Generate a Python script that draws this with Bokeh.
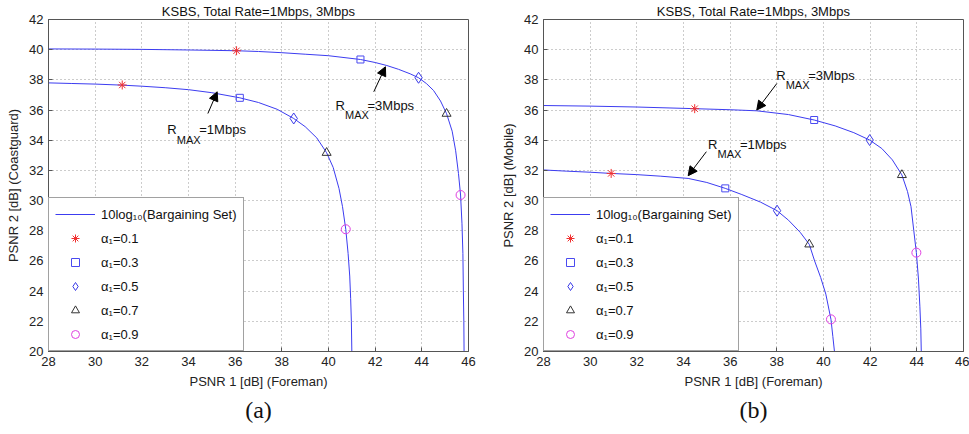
from bokeh.plotting import figure
from bokeh.models import (Range1d, FixedTicker, Legend, LegendItem, Arrow,
                          NormalHead, Label, Title)
from bokeh.layouts import row
from bokeh.embed import file_html
from bokeh.resources import INLINE

# ---------------- text ----------------
TITLE = "KSBS, Total Rate=1Mbps, 3Mbps"
X_LABEL = "PSNR 1 [dB] (Foreman)"
Y_LABEL_A = "PSNR 2 [dB] (Coastguard)"
Y_LABEL_B = "PSNR 2 [dB] (Mobile)"
CAPTION_A = "(a)"
CAPTION_B = "(b)"
X_TICKS = [28, 30, 32, 34, 36, 38, 40, 42, 44, 46]
Y_TICKS = [20, 22, 24, 26, 28, 30, 32, 34, 36, 38, 40, 42]
LEGEND_LABELS = ["10log\u2081\u2080(Bargaining Set)", "\u03b1\u2081=0.1", "\u03b1\u2081=0.3",
                 "\u03b1\u2081=0.5", "\u03b1\u2081=0.7", "\u03b1\u2081=0.9"]

# ---------------- panel (a): Coastguard ----------------
a_1M_x = [28.0, 29.0, 30.0, 31.16, 32.0, 33.0, 34.0, 35.0, 36.2, 37.0, 37.8, 38.51,
          39.0, 39.5, 39.92, 40.2, 40.45, 40.6, 40.74, 40.84, 40.91, 40.95, 40.98, 41.0]
a_1M_y = [37.80, 37.76, 37.72, 37.65, 37.58, 37.48, 37.35, 37.15, 36.81, 36.5, 36.05, 35.44,
          34.9, 34.15, 33.17, 32.2, 30.8, 29.6, 28.1, 26.5, 25.0, 23.5, 22.0, 20.0]
a_3M_x = [28.0, 30.0, 32.0, 34.0, 36.06, 37.0, 38.0, 39.0, 40.0, 41.37, 42.0, 42.5, 43.0,
          43.5, 43.86, 44.2, 44.5, 44.8, 45.06, 45.3, 45.45, 45.57, 45.66, 45.72, 45.76,
          45.78, 45.8, 45.81]
a_3M_y = [40.05, 40.04, 40.02, 39.98, 39.93, 39.88, 39.8, 39.7, 39.6, 39.35, 39.15, 38.95, 38.7,
          38.4, 38.14, 37.75, 37.3, 36.6, 35.76, 34.6, 33.3, 31.8, 30.37, 28.5, 26.5,
          24.0, 22.0, 20.0]
a_alpha01_x = [31.16, 36.06]
a_alpha01_y = [37.66, 39.93]
a_alpha03_x = [36.2, 41.37]
a_alpha03_y = [36.81, 39.35]
a_alpha05_x = [38.51, 43.86]
a_alpha05_y = [35.44, 38.14]
a_alpha07_x = [39.92, 45.06]
a_alpha07_y = [33.17, 35.76]
a_alpha09_x = [40.74, 45.66]
a_alpha09_y = [28.1, 30.37]

# ---------------- panel (b): Mobile ----------------
b_1M_x = [28.0, 29.0, 30.0, 30.9, 32.0, 33.0, 34.2, 35.0, 35.79, 36.5, 37.3, 38.01, 38.5,
          39.0, 39.39, 39.62, 39.88, 40.1, 40.32, 40.4, 40.47]
b_1M_y = [32.03, 31.95, 31.88, 31.8, 31.72, 31.62, 31.47, 31.2, 30.81, 30.4, 29.9, 29.33, 28.7,
          27.9, 27.1, 26.0, 24.9, 23.8, 22.13, 21.0, 20.0]
b_3M_x = [28.0, 30.0, 32.0, 34.48, 36.0, 37.14, 38.5, 39.6, 40.5, 41.3, 41.98, 42.5, 42.95,
          43.36, 43.6, 43.75, 43.87, 43.98, 44.07, 44.13, 44.17, 44.19]
b_3M_y = [36.3, 36.26, 36.2, 36.09, 36.02, 35.95, 35.7, 35.34, 34.95, 34.5, 34.01, 33.45, 32.7,
          31.7, 30.6, 29.6, 28.0, 26.55, 24.8, 23.0, 21.5, 20.0]
b_alpha01_x = [30.9, 34.48]
b_alpha01_y = [31.8, 36.09]
b_alpha03_x = [35.79, 39.6]
b_alpha03_y = [30.81, 35.34]
b_alpha05_x = [38.01, 41.98]
b_alpha05_y = [29.33, 34.01]
b_alpha07_x = [39.39, 43.36]
b_alpha07_y = [27.1, 31.7]
b_alpha09_x = [40.32, 43.98]
b_alpha09_y = [22.13, 26.55]

# annotation anchors (data coordinates): arrow tail, arrow tip, text start
a_ann_1M = dict(tail=(34.83, 35.77), tip=(35.23, 37.21), text=(33.09, 34.68), rate="=1Mbps")
a_ann_3M = dict(tail=(41.94, 37.21), tip=(42.44, 38.87), text=(40.30, 36.33), rate="=3Mbps")
b_ann_1M = dict(tail=(34.98, 33.24), tip=(34.20, 31.65), text=(35.05, 33.75), rate="=1Mbps")
b_ann_3M = dict(tail=(38.00, 37.76), tip=(37.14, 36.00), text=(37.97, 38.32), rate="=3Mbps")

FONT = "Liberation Sans"
LINE_BLUE = "#3c3cf0"
# (marker, colour, size)
MARKERS = [("asterisk", "#f03030", 9), ("square", "#4a4af0", 7),
           ("diamond", "#3a3ae8", 11), ("triangle", "#333333", 9),
           ("circle", "#e040e0", 9)]


def make_panel(ylabel, caption, c1x, c1y, c3x, c3y, alphas, anns, left, right):
    p = figure(frame_width=420, frame_height=332, output_backend="svg", toolbar_location=None,
               x_range=Range1d(28, 46), y_range=Range1d(20, 42),
               min_border_left=left, min_border_right=right, min_border_top=0,
               min_border_bottom=0, background_fill_color="white",
               border_fill_color="white", outline_line_color="#555555")
    p.title.text = TITLE
    p.title.align = "center"
    p.title.text_font = FONT
    p.title.text_font_size = "13px"
    p.title.text_font_style = "normal"
    p.title.text_color = "#111111"
    p.title.standoff = 2

    for ax, ticks in ((p.xaxis[0], X_TICKS), (p.yaxis[0], Y_TICKS)):
        ax.ticker = FixedTicker(ticks=ticks)
        ax.major_tick_in = 4
        ax.major_tick_out = 0
        ax.minor_tick_line_color = None
        ax.axis_line_color = "#555555"
        ax.major_tick_line_color = "#555555"
        ax.major_label_text_font = FONT
        ax.major_label_text_font_size = "13px"
        ax.major_label_text_color = "#222222"
        ax.major_label_standoff = 5
        ax.axis_label_text_font = FONT
        ax.axis_label_text_font_size = "13px"
        ax.axis_label_text_font_style = "normal"
        ax.axis_label_text_color = "#222222"
        ax.axis_label_standoff = 5
    p.xaxis.axis_label = X_LABEL
    p.yaxis.axis_label = ylabel

    for g in (p.xgrid[0], p.ygrid[0]):
        g.grid_line_color = "#999999"
        g.grid_line_dash = "1 3"
        g.grid_line_width = 1
    p.xgrid.ticker = FixedTicker(ticks=X_TICKS)
    p.ygrid.ticker = FixedTicker(ticks=Y_TICKS)

    l1 = p.line(c1x, c1y, line_color=LINE_BLUE, line_width=1)
    p.line(c3x, c3y, line_color=LINE_BLUE, line_width=1)

    renderers = [l1]
    for (mk, col, sz), (xs, ys) in zip(MARKERS, alphas):
        r = p.scatter(xs, ys, marker=mk, size=sz, line_color=col,
                      fill_color=None, line_width=1)
        renderers.append(r)

    for ann in anns:
        (x0, y0), (x1, y1), (tx, ty) = ann["tail"], ann["tip"], ann["text"]
        p.add_layout(Arrow(end=NormalHead(size=9, fill_color="black", line_color="black"),
                           x_start=x0, y_start=y0, x_end=x1, y_end=y1,
                           line_color="black", line_width=1))
        p.add_layout(Label(x=tx, y=ty, text="R", text_font=FONT, text_font_size="13px",
                           text_baseline="alphabetic", text_color="#111111"))
        p.add_layout(Label(x=tx, y=ty, x_offset=9.5, y_offset=-10, text="MAX", text_font=FONT,
                           text_font_size="11px", text_baseline="alphabetic",
                           text_color="#111111"))
        p.add_layout(Label(x=tx, y=ty, x_offset=32, text=ann["rate"], text_font=FONT,
                           text_font_size="13px", text_baseline="alphabetic",
                           text_color="#111111"))

    legend = Legend(items=[LegendItem(label=lab, renderers=[r])
                           for lab, r in zip(LEGEND_LABELS, renderers)],
                    location="bottom_left", margin=0, padding=6, spacing=4,
                    glyph_width=40, glyph_height=20, label_height=20, label_standoff=6,
                    label_text_font=FONT, label_text_font_size="13px",
                    label_text_color="#111111", border_line_color="#444444",
                    border_line_width=1, background_fill_color="white",
                    background_fill_alpha=1.0)
    p.add_layout(legend)

    p.add_layout(Title(text=caption, align="center", text_font="Liberation Serif",
                       text_font_size="24px", text_font_style="normal",
                       text_color="#111111", standoff=6), "below")
    return p


pa = make_panel(Y_LABEL_A, CAPTION_A, a_1M_x, a_1M_y, a_3M_x, a_3M_y,
                [(a_alpha01_x, a_alpha01_y), (a_alpha03_x, a_alpha03_y),
                 (a_alpha05_x, a_alpha05_y), (a_alpha07_x, a_alpha07_y),
                 (a_alpha09_x, a_alpha09_y)],
                [a_ann_1M, a_ann_3M], left=48, right=30)
pb = make_panel(Y_LABEL_B, CAPTION_B, b_1M_x, b_1M_y, b_3M_x, b_3M_y,
                [(b_alpha01_x, b_alpha01_y), (b_alpha03_x, b_alpha03_y),
                 (b_alpha05_x, b_alpha05_y), (b_alpha07_x, b_alpha07_y),
                 (b_alpha09_x, b_alpha09_y)],
                [b_ann_1M, b_ann_3M], left=45, right=6)

layout = row(pa, pb)
open("out.html", "w").write(file_html(layout, INLINE))
